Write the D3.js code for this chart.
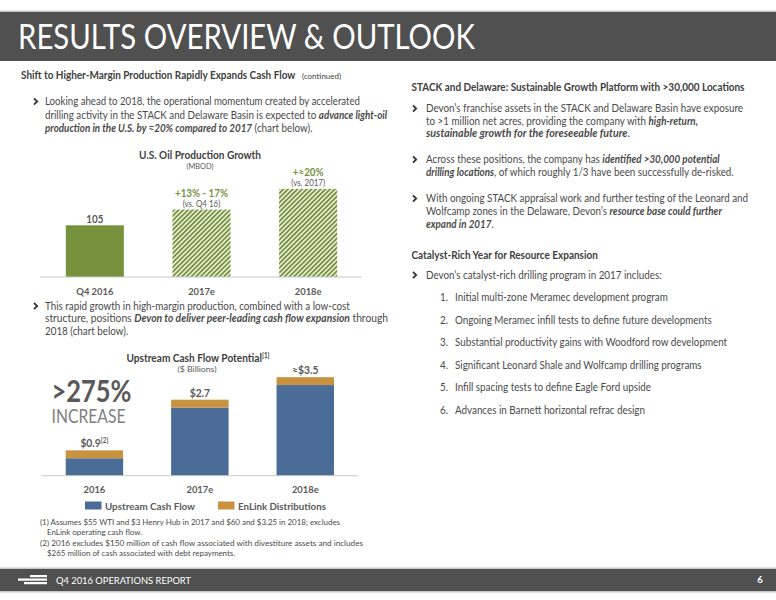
<!DOCTYPE html>
<html><head><meta charset="utf-8">
<script src="https://cdn.jsdelivr.net/npm/d3@7"></script>
<style>html,body{margin:0;padding:0;background:#fff}svg{display:block;font-family:Lato,"Open Sans",sans-serif}</style>
</head><body>
<svg id="c" width="776" height="600"></svg>
<script>
// ---------- data ----------
const oilCategories = ["Q4 2016", "2017e", "2018e"];
const oilValues = [105, 137, 179];
const oilMainLabels = ["105", "+13% - 17%", "+\u224820%"];
const oilSubLabels = ["", "(vs. Q4 16)", "(vs. 2017)"];
const oilHatched = [false, true, true];

const cashCategories = ["2016", "2017e", "2018e"];
const upstreamValues = [0.62, 2.42, 3.22];
const enlinkValues = [0.28, 0.28, 0.28];
const cashLabels = ["$0.9", "$2.7", "\u2248$3.5"];
const cashLabelNotes = ["[2]", "", ""];
const seriesNames = ["Upstream Cash Flow", "EnLink Distributions"];

const pageTitle = "RESULTS OVERVIEW & OUTLOOK";
const footerText = "Q4 2016  OPERATIONS REPORT";
const pageNumber = "6";
const catalystItems = [
  "Initial multi-zone Meramec development program",
  "Ongoing Meramec infill tests to define future developments",
  "Substantial productivity gains with Woodford row development",
  "Significant Leonard Shale and Wolfcamp drilling programs",
  "Infill spacing tests to define Eagle Ford upside",
  "Advances in Barnett horizontal refrac design"
];

// ---------- styles ----------
const DARK = "#505050", BODY = "#4a4a4a", HEAD = "#404040";
const GREEN = "#76923C", BLUE = "#4c6c98", GOLD = "#c8923f", AXIS = "#c8c8c8";

const svg = d3.select("#c");
const defs = svg.append("defs");
const pat = defs.append("pattern").attr("id", "hatch").attr("patternUnits", "userSpaceOnUse")
  .attr("width", 3.3).attr("height", 3.3).attr("patternTransform", "rotate(45)");
pat.append("rect").attr("width", 3.3).attr("height", 3.3).attr("fill", "#eef3e2");
pat.append("rect").attr("width", 1.8).attr("height", 3.3).attr("fill", GREEN);

function natural(str, size, weight) {
  const t = svg.append("text").attr("font-size", size).attr("font-weight", weight || "normal").text(str);
  const n = t.node().getComputedTextLength(); t.remove(); return n;
}
// horizontal compression factors calibrated on full reference lines
const K_BODY = 317 / natural("Devon\u2019s franchise assets in the STACK and Delaware Basin have exposure", 10.5);
const K_HEAD = 333 / natural("STACK and Delaware: Sustainable Growth Platform with >30,000 Locations", 10.5, "bold");
const K_FOOT = 300 / natural("(1) Assumes $55 WTI and $3 Henry Hub in 2017 and $60 and $3.25 in 2018; excludes", 8);

function line(parent, x, y, segs, o = {}) {
  const size = o.size || 10.5;
  const t = parent.append("text").attr("x", x).attr("y", y)
    .attr("font-size", size).attr("fill", o.color || BODY)
    .attr("text-anchor", o.anchor || "start");
  if (o.weight) t.attr("font-weight", o.weight);
  segs.forEach(s => {
    const [str, st] = typeof s === "string" ? [s, ""] : s;
    const ts = t.append("tspan").text(str);
    if (st.includes("b")) ts.attr("font-weight", "bold");
    if (st.includes("i")) ts.attr("font-style", "italic");
    if (st.includes("s")) ts.attr("font-size", size * 0.62).attr("dy", -size * 0.38);
  });
  const nat = t.node().getComputedTextLength();
  const w = o.w || nat * (o.k || K_BODY);
  t.attr("textLength", w).attr("lengthAdjust", "spacingAndGlyphs");
  return t;
}
function chevron(x, y) {
  svg.append("path").attr("d", `M${x},${y - 3.2} L${x + 3.2},${y} L${x},${y + 3.2}`)
    .attr("fill", "none").attr("stroke", "#333").attr("stroke-width", 1.8);
}

// ---------- header / footer ----------
svg.append("rect").attr("x", 0).attr("y", 10.5).attr("width", 776).attr("height", 1.5).attr("fill", "#c8c8c8");
svg.append("rect").attr("x", 0).attr("y", 12).attr("width", 776).attr("height", 49).attr("fill", DARK);
line(svg, 18, 49, [pageTitle], { size: 34, color: "#fff", w: 457 });

svg.append("rect").attr("x", 0).attr("y", 567.5).attr("width", 776).attr("height", 1.5).attr("fill", "#c8c8c8");
svg.append("rect").attr("x", 0).attr("y", 569).attr("width", 776).attr("height", 22).attr("fill", DARK);
svg.append("rect").attr("x", 0).attr("y", 591).attr("width", 776).attr("height", 1.5).attr("fill", "#c8c8c8");
[[30, 575, 17], [18, 578.5, 29], [24, 582, 23]].forEach(([x, y, w]) =>
  svg.append("rect").attr("x", x).attr("y", y).attr("width", w).attr("height", 2.2).attr("fill", "#fff"));
line(svg, 56, 583.5, [footerText], { size: 9.5, color: "#fff", w: 135 });
line(svg, 760, 583, [pageNumber], { size: 9.5, color: "#fff", weight: "bold", anchor: "middle", k: 1 });

// ---------- left text ----------
line(svg, 21, 79, [["Shift to Higher-Margin Production Rapidly Expands Cash Flow", "b"]], { color: HEAD, k: K_HEAD });
line(svg, 302, 79, ["(continued)"], { size: 8, color: HEAD, w: 39 });
chevron(34, 101.5);
line(svg, 45, 105, ["Looking ahead to 2018, the operational momentum created by accelerated"], { w: 315 });
line(svg, 45, 118.5, ["drilling activity in the STACK and Delaware Basin is expected to ", ["advance light-oil", "bi"]], { w: 342 });
line(svg, 45, 132, [["production in the U.S. by \u224820% compared to 2017", "bi"], " (chart below)."]);

chevron(34, 306);
line(svg, 45, 309.5, ["This rapid growth in high-margin production, combined with a low-cost"]);
line(svg, 45, 322, ["structure, positions ", ["Devon to deliver peer-leading cash flow expansion", "bi"], " through"], { w: 343 });
line(svg, 45, 334.5, ["2018 (chart below)."]);

// ---------- oil chart ----------
const ox = d3.scaleBand().domain(oilCategories).range([41.5, 361.5]).paddingInner(0.456).paddingOuter(0.228);
const oy = d3.scaleLinear().domain([0, 200]).range([277, 277 - 200 * 0.4924]);
line(svg, 200, 158.5, [["U.S. Oil Production Growth", "b"]], { anchor: "middle", color: HEAD, size: 10.5, w: 122 });
line(svg, 200, 169, ["(MBOD)"], { anchor: "middle", color: "#595959", size: 7.5, w: 27 });
const og = svg.append("g");
og.selectAll("rect.bar").data(oilCategories).join("rect").attr("class", "bar")
  .attr("x", d => ox(d)).attr("width", ox.bandwidth())
  .attr("y", (d, i) => oy(oilValues[i])).attr("height", (d, i) => oy(0) - oy(oilValues[i]))
  .attr("fill", (d, i) => oilHatched[i] ? "url(#hatch)" : GREEN);
og.append("g").attr("transform", `translate(0,${oy(0)})`)
  .call(d3.axisBottom(ox).tickSize(0).tickPadding(0))
  .call(g => g.select(".domain").attr("d", "M40,0H362").attr("stroke", AXIS))
  .call(g => g.selectAll("text").remove());
oilCategories.forEach((c, i) => {
  const cx = ox(c) + ox.bandwidth() / 2, top = oy(oilValues[i]);
  line(svg, cx, 295, [[c, "b"]], { anchor: "middle", color: "#595959", size: 10 });
  if (oilSubLabels[i]) {
    line(svg, cx, top - 13, [[oilMainLabels[i], "b"]], { anchor: "middle", color: GREEN, size: 10.5 });
    line(svg, cx, top - 3, [oilSubLabels[i]], { anchor: "middle", color: "#595959", size: 8.5 });
  } else {
    line(svg, cx, top - 2.5, [[oilMainLabels[i], "b"]], { anchor: "middle", color: "#595959", size: 10.5 });
  }
});

// ---------- cash flow chart ----------
const cx = d3.scaleBand().domain(cashCategories).range([41.7, 358]).paddingInner(0.455).paddingOuter(0.2275);
const cy = d3.scaleLinear().domain([0, 4]).range([475.7, 475.7 - 4 * 28.15]);
line(svg, 198, 361.5, [["Upstream Cash Flow Potential", "b"], ["[1]", "bs"]], { anchor: "middle", color: HEAD, size: 10.5, w: 143 });
line(svg, 197, 372, ["($ Billions)"], { anchor: "middle", color: "#595959", size: 7.5, w: 39 });
const stackData = d3.stack().keys([0, 1]).value((d, k) => d[k])(cashCategories.map((c, i) => [upstreamValues[i], enlinkValues[i]]));
const cg = svg.append("g");
cg.selectAll("g.s").data(stackData).join("g").attr("class", "s").attr("fill", (d, i) => [BLUE, GOLD][i])
  .selectAll("rect").data(d => d).join("rect")
  .attr("x", (d, i) => cx(cashCategories[i])).attr("width", cx.bandwidth())
  .attr("y", d => cy(d[1])).attr("height", d => cy(d[0]) - cy(d[1]));
cg.append("g").attr("transform", `translate(0,${cy(0)})`)
  .call(d3.axisBottom(cx).tickSize(0).tickPadding(0))
  .call(g => g.select(".domain").attr("d", "M41.7,0H358").attr("stroke", AXIS))
  .call(g => g.selectAll("text").remove());
cashCategories.forEach((c, i) => {
  const mx = cx(c) + cx.bandwidth() / 2, top = cy(upstreamValues[i] + enlinkValues[i]);
  line(svg, mx, 493, [[c, "b"]], { anchor: "middle", color: "#595959", size: 10 });
  const segs = [[cashLabels[i], "b"]];
  if (cashLabelNotes[i]) segs.push([cashLabelNotes[i], "bs"]);
  line(svg, mx, top - 3, segs, { anchor: "middle", color: "#595959", size: 11 });
});
line(svg, 51.5, 402, [[">275%", "b"]], { size: 30, color: "#595959", w: 80 });
line(svg, 51.5, 422.5, ["INCREASE"], { size: 20, color: "#7f7f7f", w: 74 });
// legend
svg.append("rect").attr("x", 85).attr("y", 501.5).attr("width", 16.5).attr("height", 8).attr("fill", BLUE);
line(svg, 105, 509.5, [[seriesNames[0], "b"]], { size: 10, color: "#595959", w: 90 });
svg.append("rect").attr("x", 218).attr("y", 501.5).attr("width", 16.5).attr("height", 8).attr("fill", GOLD);
line(svg, 238, 509.5, [[seriesNames[1], "b"]], { size: 10, color: "#595959", w: 88 });

// footnotes
line(svg, 40, 524.5, ["(1) Assumes $55 WTI and $3 Henry Hub in 2017 and $60 and $3.25 in 2018; excludes"], { size: 8, w: 300 });
line(svg, 47, 534.5, ["EnLink operating cash flow."], { size: 8, k: K_FOOT });
line(svg, 40, 545.5, ["(2) 2016 excludes $150 million of cash flow associated with divestiture assets and includes"], { size: 8, w: 323 });
line(svg, 47, 555.5, ["$265 million of cash associated with debt repayments."], { size: 8, k: K_FOOT });

// ---------- right text ----------
line(svg, 411.5, 91, [["STACK and Delaware: Sustainable Growth Platform with >30,000 Locations", "b"]], { color: HEAD, w: 333 });
chevron(413, 108.5);
line(svg, 426, 112, ["Devon\u2019s franchise assets in the STACK and Delaware Basin have exposure"], { w: 317 });
line(svg, 426, 124.5, ["to >1 million net acres, providing the company with ", ["high-return,", "bi"]]);
line(svg, 426, 136.5, [["sustainable growth for the foreseeable future", "bi"], "."], { w: 204 });
chevron(413, 159.5);
line(svg, 426, 163, ["Across these positions, the company has ", ["identified >30,000 potential", "bi"]]);
line(svg, 426, 175.5, [["drilling locations", "bi"], ", of which roughly 1/3 have been successfully de-risked."]);
chevron(413, 198.5);
line(svg, 426, 202, ["With ongoing STACK appraisal work and further testing of the Leonard and"], { w: 322 });
line(svg, 426, 214.5, ["Wolfcamp zones in the Delaware, Devon\u2019s ", ["resource base could further", "bi"]]);
line(svg, 426, 227.5, [["expand in 2017", "bi"], "."]);

line(svg, 411.5, 258.5, [["Catalyst-Rich Year for Resource Expansion", "b"]], { color: HEAD, k: K_HEAD });
chevron(413, 275);
line(svg, 426, 278.5, ["Devon\u2019s catalyst-rich drilling program in 2017 includes:"]);
catalystItems.forEach((t, i) => {
  const y = 301 + i * 22.55;
  line(svg, 440, y, [(i + 1) + "."]);
  line(svg, 455, y, [t]);
});
</script>
</body></html>
